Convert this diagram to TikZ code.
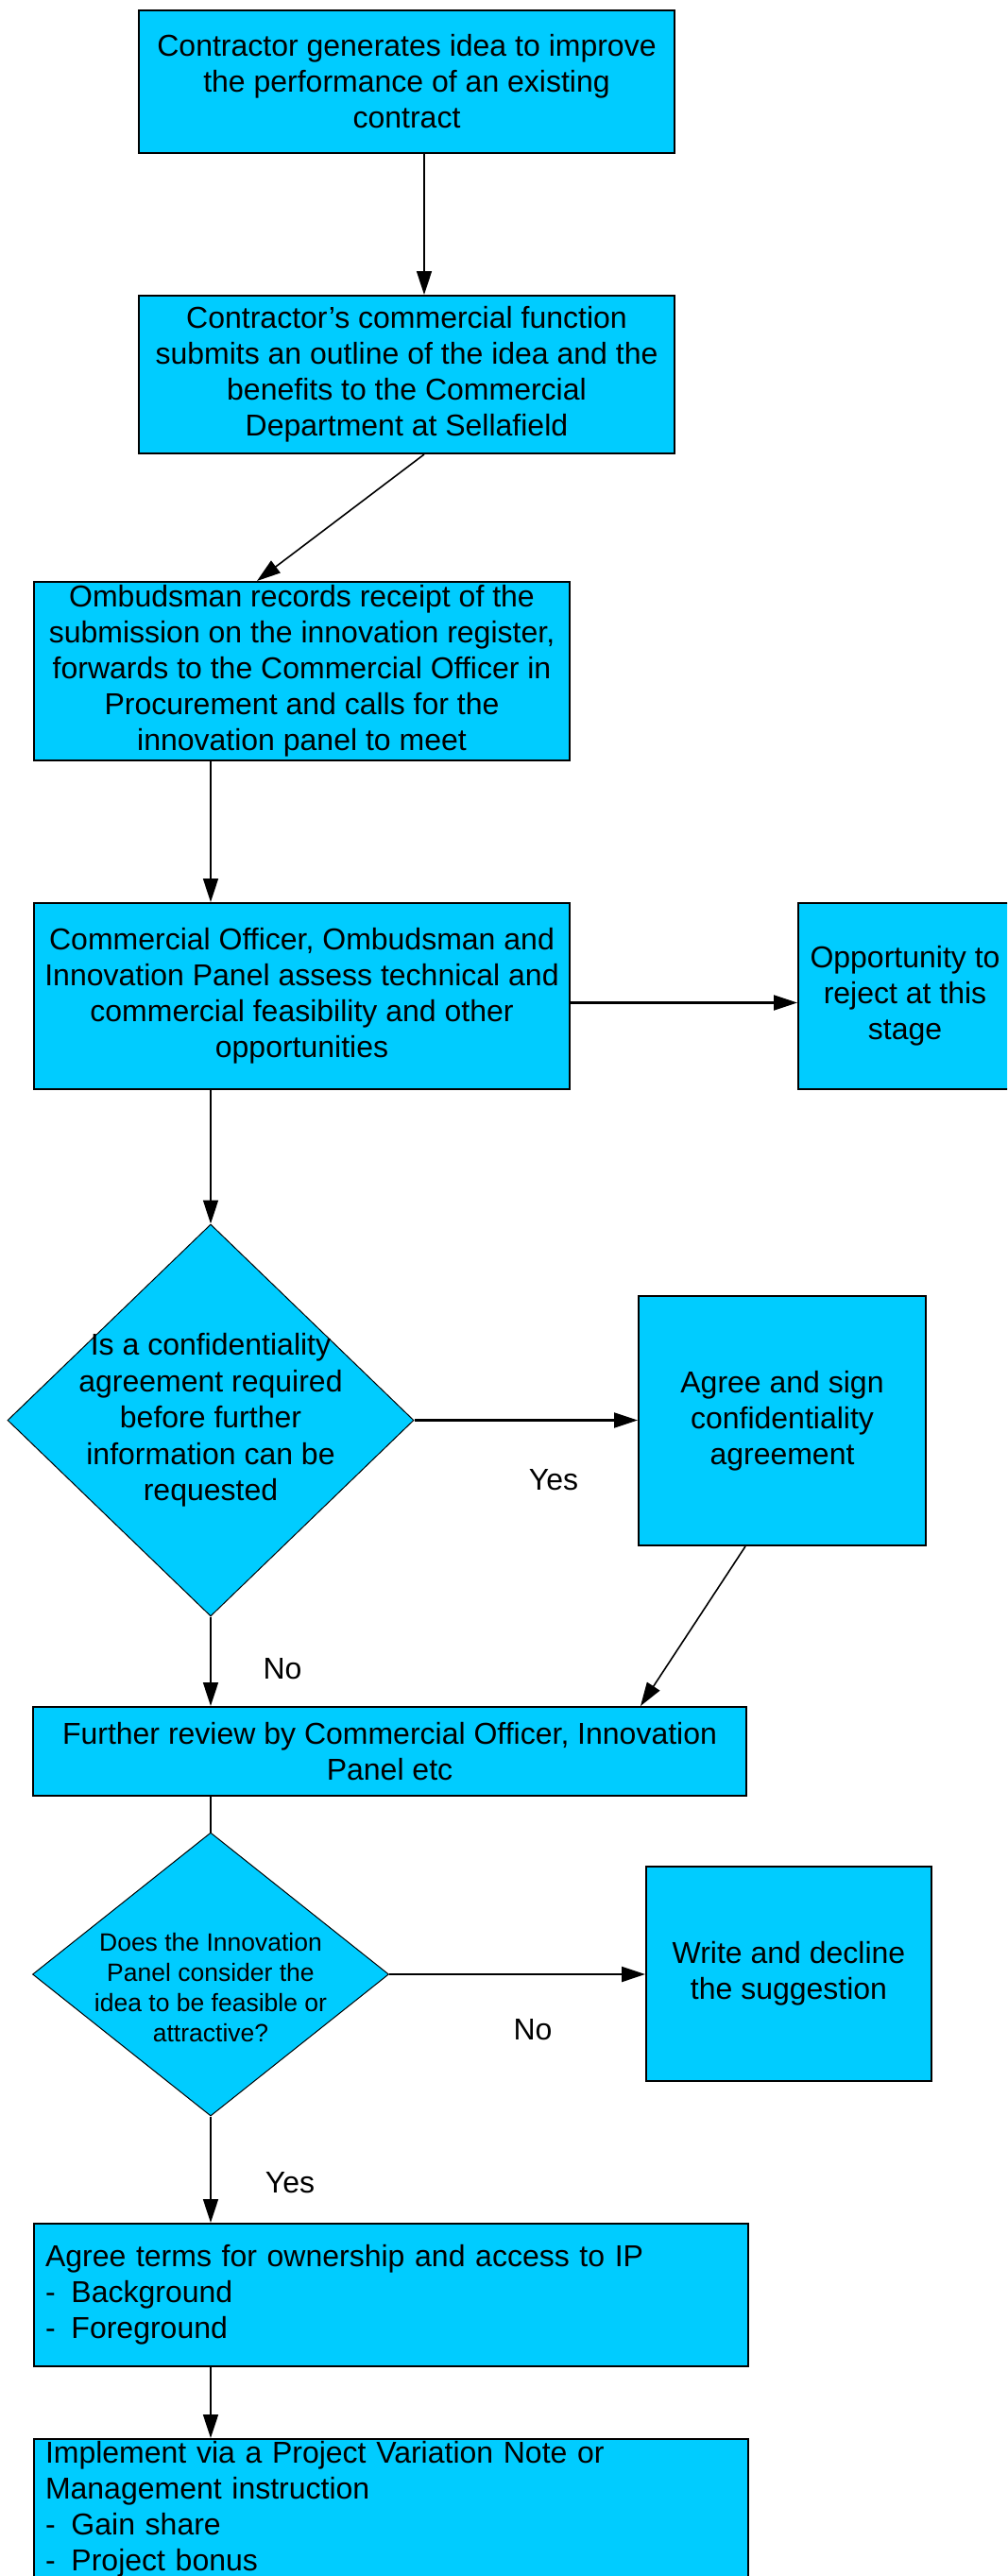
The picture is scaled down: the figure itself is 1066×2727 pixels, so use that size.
\documentclass[tikz,border=0pt]{standalone}
\usepackage{fontspec}
\setmainfont{Liberation Sans}
\usetikzlibrary{shapes.geometric,arrows.meta}
\definecolor{boxfill}{HTML}{00CCFF}
\tikzset{
  procbox/.style={draw=black, line width=2pt, fill=boxfill, inner sep=0pt, align=center,
    font=\fontsize{32}{38}\selectfont},
  leftbox/.style={procbox, align=left, text width=#1},
  decbox/.style={diamond, draw=black, line width=1pt, fill=boxfill, inner sep=0pt},
  dectext/.style={align=center, inner sep=0pt},
  conn/.style={line width=1.6pt, -{Triangle[length=25pt,width=16pt]}},
  hconn/.style={conn, line width=2.2pt},
  plainconn/.style={line width=1.6pt},
  lbl/.style={font=\fontsize{32}{38}\selectfont, inner sep=0pt}
}
\newcommand{\bul}{\makebox[27.5pt][l]{-}}
\begin{document}
\begin{tikzpicture}[x=1pt,y=-1pt]
\useasboundingbox (0,0) rectangle (1066,2727);
\clip (0,0) rectangle (1066,2727);

\node[procbox, minimum width=567pt, minimum height=151pt] (b1) at (430.5,86.5)
  {Contractor generates idea to improve\\the performance of an existing\\contract};
\node[procbox, minimum width=567pt, minimum height=167pt] (b2) at (430.5,396.5)
  {Contractor’s commercial function\\submits an outline of the idea and the\\benefits to the Commercial\\Department at Sellafield};
\node[procbox, minimum width=567pt, minimum height=189pt] (b3) at (319.5,710.5)
  {Ombudsman records receipt of the\\submission on the innovation register,\\forwards to the Commercial Officer in\\Procurement and calls for the\\innovation panel to meet};
\node[procbox, minimum width=567pt, minimum height=197pt] (b4) at (319.5,1054.5)
  {Commercial Officer, Ombudsman and\\Innovation Panel assess technical and\\commercial feasibility and other\\opportunities};
\node[procbox, minimum width=226pt, minimum height=197pt] (opp) at (958,1054.5)
  {Opportunity to\\reject at this\\stage};

\node[decbox, minimum width=430pt, minimum height=415pt] (d1) at (223,1503.5) {};
\node[dectext, font=\fontsize{32}{38.5}\selectfont] (d1t) at (223,1503.5)
  {Is a confidentiality\\agreement required\\before further\\information can be\\requested};
\node[procbox, minimum width=304pt, minimum height=264pt] (b5) at (828,1504)
  {Agree and sign\\confidentiality\\agreement};
\node[procbox, minimum width=755pt, minimum height=94pt] (b6) at (412.5,1854)
  {Further review by Commercial Officer, Innovation\\Panel etc};

\node[decbox, minimum width=377pt, minimum height=300pt] (d2) at (223,2090) {};
\node[dectext, font=\fontsize{26.5}{31.7}\selectfont] (d2t) at (223,2104)
  {Does the Innovation\\Panel consider the\\idea to be feasible or\\attractive?};
\node[procbox, minimum width=302pt, minimum height=227pt] (b7) at (835,2089.5)
  {Write and decline\\the suggestion};

\node[leftbox=732pt, minimum width=756pt, minimum height=151pt] (b8) at (414,2429.5)
  {Agree terms for ownership and access to IP\\\bul Background\\\bul Foreground};
\node[leftbox=732pt, minimum width=756pt, minimum height=148pt] (b9) at (414,2656)
  {Implement via a Project Variation Note or\\Management instruction\\\bul Gain share\\\bul Project bonus};

% labels
\node[lbl] (yes1) at (586,1567) {Yes};
\node[lbl] (no1) at (299,1767) {No};
\node[lbl] (no2) at (564,2149) {No};
\node[lbl] (yes2) at (307,2311) {Yes};

% connectors
\draw[conn] ([xshift=18.5pt]b1.south) -- ([xshift=18.5pt]b2.north);
\draw[conn] ([xshift=18.5pt]b2.south) -- ([xshift=-47.5pt]b3.north);
\draw[conn] (b3.south -| d1.north) -- (b4.north -| d1.north);
\draw[hconn] ([yshift=-7pt]b4.east) -- ([yshift=-7pt]opp.west);
\draw[conn] (b4.south -| d1.north) -- (d1.north);
\draw[hconn] (d1.east) -- (b5.west |- d1.east);
\draw[conn] (d1.south) -- (b6.north -| d1.south);
\draw[conn] ([xshift=-39pt]b5.south) -- ([xshift=265.5pt]b6.north);
\draw[plainconn] (b6.south -| d2.north) -- (d2.north);
\draw[hconn] (d2.east) -- (b7.west |- d2.east);
\draw[conn] (d2.south) -- (b8.north -| d2.south);
\draw[conn] (b8.south -| d2.south) -- (b9.north -| d2.south);
\end{tikzpicture}
\end{document}
